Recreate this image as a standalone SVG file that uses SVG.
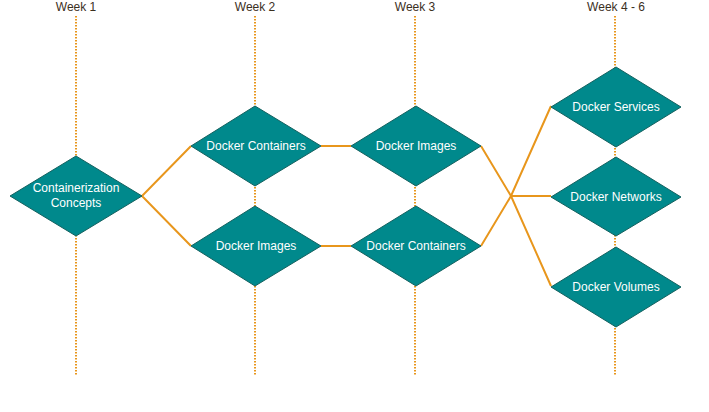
<svg xmlns="http://www.w3.org/2000/svg" width="709" height="412" viewBox="0 0 709 412">
<style>
.wk{font-family:"Liberation Sans",Arial,sans-serif;font-size:12px;fill:#3b2f1e;text-anchor:middle}
.lane{stroke:#e8961c;stroke-width:2;stroke-dasharray:1.5,1.5;fill:none}
.dia{fill:#00898c;stroke:#13615f;stroke-width:1}
.lbl{font-family:"Liberation Sans",Arial,sans-serif;font-size:12px;fill:#ffffff;text-anchor:middle}
.con{stroke:#e8961c;stroke-width:2;fill:none}
</style>
<rect width="709" height="412" fill="#ffffff"/>
<g id="lanes">
<text class="wk" x="76" y="11">Week 1</text>
<text class="wk" x="255" y="11">Week 2</text>
<text class="wk" x="415" y="11">Week 3</text>
<text class="wk" x="616" y="11">Week 4 - 6</text>
<line class="lane" x1="76" y1="16" x2="76" y2="376"/>
<line class="lane" x1="255" y1="16" x2="255" y2="376"/>
<line class="lane" x1="415" y1="16" x2="415" y2="376"/>
<line class="lane" x1="615" y1="16" x2="615" y2="376"/>
</g>
<g id="connectors">
<polyline class="con" points="191,146 142,196 191,246"/>
<line class="con" x1="321" y1="146" x2="351" y2="146"/>
<line class="con" x1="321" y1="246" x2="351" y2="246"/>
<polyline class="con" points="481,146 511,196 551,286"/>
<polyline class="con" points="481,246 511,196 551,106"/>
<line class="con" x1="511" y1="196" x2="551" y2="196"/>
</g>
<g id="n-concepts">
<polygon class="dia" points="76,156 142,196 76,236 10,196"/>
<text class="lbl" x="76" y="192">Containerization</text>
<text class="lbl" x="76" y="207">Concepts</text>
</g>
<g id="n-w2-containers">
<polygon class="dia" points="255,106 321,146 255,186 191,146"/>
<text class="lbl" x="256" y="150">Docker Containers</text>
</g>
<g id="n-w2-images">
<polygon class="dia" points="255,206 321,246 255,286 191,246"/>
<text class="lbl" x="256" y="250">Docker Images</text>
</g>
<g id="n-w3-images">
<polygon class="dia" points="416,106 481,146 416,186 351,146"/>
<text class="lbl" x="416" y="150">Docker Images</text>
</g>
<g id="n-w3-containers">
<polygon class="dia" points="416,206 481,246 416,286 351,246"/>
<text class="lbl" x="416" y="250">Docker Containers</text>
</g>
<g id="n-services">
<polygon class="dia" points="616,67 681,107 616,147 551,107"/>
<text class="lbl" x="616" y="111">Docker Services</text>
</g>
<g id="n-networks">
<polygon class="dia" points="616,157 681,197 616,236 551,197"/>
<text class="lbl" x="616" y="201">Docker Networks</text>
</g>
<g id="n-volumes">
<polygon class="dia" points="616,247 681,287 616,327 551,287"/>
<text class="lbl" x="616" y="291">Docker Volumes</text>
</g>
</svg>
